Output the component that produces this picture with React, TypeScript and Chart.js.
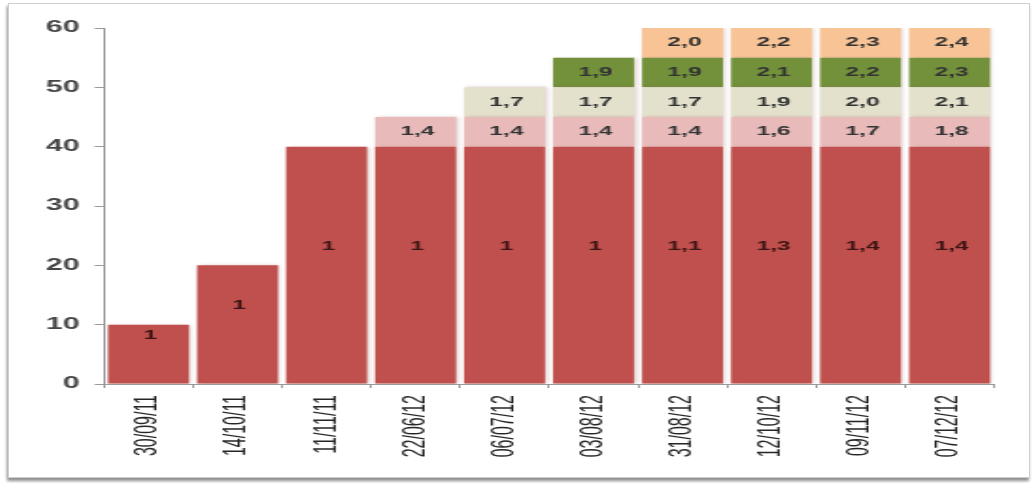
import { useEffect, useRef } from 'react';
import { Chart, registerables } from 'chart.js';

Chart.register(...registerables);

// Dates of each release
const categories = [
  '30/09/11', '14/10/11', '11/11/11', '22/06/12', '06/07/12',
  '03/08/12', '31/08/12', '12/10/12', '09/11/12', '07/12/12',
];

// Stacked tier heights
const baseValues = [10, 20, 40, 40, 40, 40, 40, 40, 40, 40];
const tier2Values = [null, null, null, 5, 5, 5, 5, 5, 5, 5];
const tier3Values = [null, null, null, null, 5, 5, 5, 5, 5, 5];
const tier4Values = [null, null, null, null, null, 5, 5, 5, 5, 5];
const tier5Values = [null, null, null, null, null, null, 5, 5, 5, 5];

// Figures printed inside each segment
const baseLabels = ['1', '1', '1', '1', '1', '1', '1,1', '1,3', '1,4', '1,4'];
const tier2Labels = ['', '', '', '1,4', '1,4', '1,4', '1,4', '1,6', '1,7', '1,8'];
const tier3Labels = ['', '', '', '', '1,7', '1,7', '1,7', '1,9', '2,0', '2,1'];
const tier4Labels = ['', '', '', '', '', '1,9', '1,9', '2,1', '2,2', '2,3'];
const tier5Labels = ['', '', '', '', '', '', '2,0', '2,2', '2,3', '2,4'];

const yMin = 0;
const yMax = 60;
const yStep = 10;

const segmentLabels = [baseLabels, tier2Labels, tier3Labels, tier4Labels, tier5Labels];

const segmentText = {
  id: 'segmentText',
  afterDatasetsDraw(chart: any) {
    const ctx = chart.ctx;
    ctx.save();
    ctx.font = 'bold 13px "Liberation Sans", Arial, sans-serif';
    ctx.textAlign = 'center';
    ctx.textBaseline = 'middle';
    segmentLabels.forEach((labels, di) => {
      const meta = chart.getDatasetMeta(di);
      meta.data.forEach((el: any, i: number) => {
        const txt = labels[i];
        if (!txt) return;
        const mid = (el.y + el.base) / 2;
        const y = di === 0 ? mid - 19 : mid;
        ctx.fillStyle = di === 0 ? '#3b1414' : '#333333';
        ctx.fillText(txt, el.x + 1, y);
      });
    });
    ctx.restore();
  },
};

const barShadow = {
  id: 'barShadow',
  beforeDatasetsDraw(chart: any) {
    const ctx = chart.ctx;
    ctx.save();
    ctx.shadowColor = 'rgba(150,90,90,0.35)';
    ctx.shadowBlur = 3;
    ctx.shadowOffsetX = 1;
    ctx.shadowOffsetY = 0;
  },
  afterDatasetsDraw(chart: any) {
    chart.ctx.restore();
  },
};

export default function App() {
  const canvasRef = useRef<HTMLCanvasElement | null>(null);

  useEffect(() => {
    const canvas = canvasRef.current;
    if (!canvas) return;
    const mk = (data: (number | null)[], color: string) => ({
      data,
      backgroundColor: color,
      borderWidth: 0,
      barPercentage: 0.91,
      categoryPercentage: 1,
    });
    const chart = new Chart(canvas, {
      type: 'bar',
      data: {
        labels: categories,
        datasets: [
          mk(baseValues, '#C0504D'),
          mk(tier2Values, '#E8BABA'),
          mk(tier3Values, '#E3E0CC'),
          mk(tier4Values, '#72913A'),
          mk(tier5Values, '#F8C395'),
        ],
      },
      options: {
        responsive: false,
        animation: false,
        devicePixelRatio: 1,
        layout: { padding: { top: 24, right: 18.5, left: 0, bottom: 0 } },
        plugins: {
          legend: { display: false },
          tooltip: { enabled: false },
        },
        scales: {
          x: {
            stacked: true,
            afterFit: (s: any) => { s.height = 93; },
            grid: {
              drawOnChartArea: false,
              tickLength: 4,
              color: '#9a9a9a',
              offset: true,
            },
            border: { color: '#9a9a9a', width: 1 },
            ticks: {
              minRotation: 90,
              maxRotation: 90,
              padding: 7,
              color: '#262626',
              font: { family: '"Liberation Sans", Arial, sans-serif', size: 16 },
            },
          },
          y: {
            stacked: true,
            min: yMin,
            max: yMax,
            afterFit: (s: any) => { s.width = 50.3; },
            grid: {
              drawOnChartArea: false,
              tickLength: 5,
              color: '#9a9a9a',
            },
            border: { color: '#9a9a9a', width: 1 },
            ticks: {
              stepSize: yStep,
              padding: 8,
              color: '#454545',
              font: { family: '"Liberation Sans", Arial, sans-serif', size: 16, weight: 'bold' },
            },
          },
        },
      },
      plugins: [barShadow, segmentText],
    } as any);
    return () => chart.destroy();
  }, []);

  return (
    <div
      style={{
        position: 'absolute',
        left: 8,
        top: 3,
        width: 1020,
        height: 473,
        border: '1px solid #cfcfcf',
        boxShadow: '-1px 3px 3px rgba(0,0,0,0.45)',
        background: '#ffffff',
      }}
    >
      <canvas
        ref={canvasRef}
        width={540}
        height={473}
        style={{ display: 'block', width: '1020px', height: '473px' }}
      />
    </div>
  );
}
